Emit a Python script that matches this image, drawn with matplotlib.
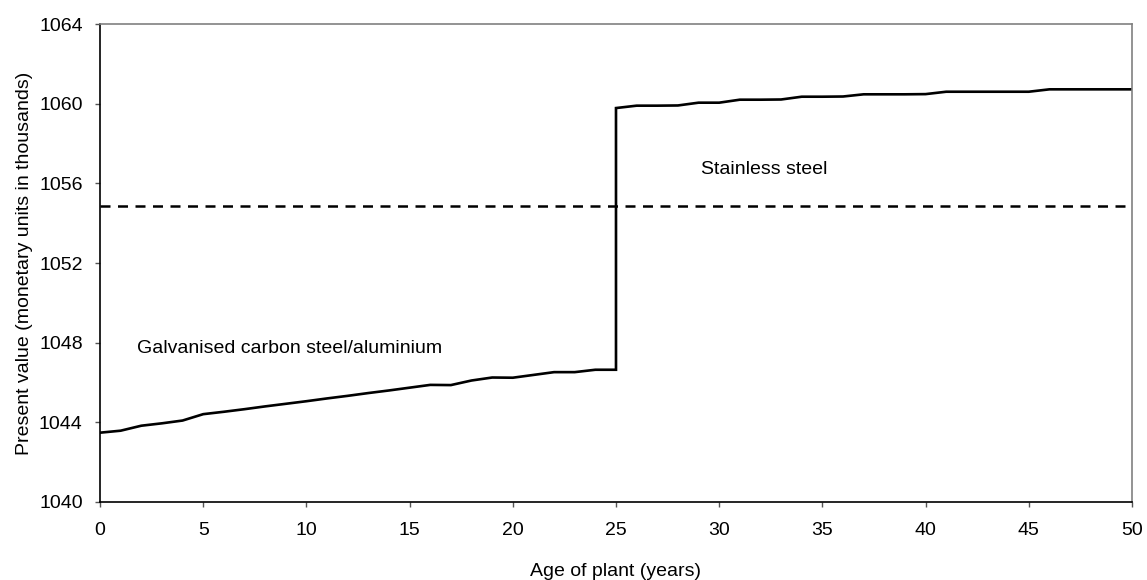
import numpy as np
import matplotlib
matplotlib.use("Agg")
import matplotlib.pyplot as plt

plt.rcParams["font.family"] = ["Liberation Sans", "DejaVu Sans"]

# Present value (thousands of monetary units)
galv_years = list(range(0, 26))
galv_pv = [1043.48, 1043.58, 1043.83, 1043.95, 1044.09, 1044.41, 1044.53,
           1044.66, 1044.80, 1044.93, 1045.06, 1045.20, 1045.33, 1045.47,
           1045.60, 1045.74, 1045.88, 1045.87, 1046.10, 1046.25, 1046.24,
           1046.38, 1046.52, 1046.52, 1046.64, 1046.64]

stainless_years = list(range(25, 51))
stainless_pv = [1059.78, 1059.90, 1059.90, 1059.91, 1060.05, 1060.05,
                1060.20, 1060.20, 1060.21, 1060.35, 1060.35, 1060.36,
                1060.47, 1060.47, 1060.47, 1060.48, 1060.60, 1060.60,
                1060.60, 1060.60, 1060.60, 1060.72, 1060.72, 1060.72,
                1060.72, 1060.72]

threshold_years = [0, 50]
threshold_pv = [1054.84, 1054.84]

x_ticks = [0, 5, 10, 15, 20, 25, 30, 35, 40, 45, 50]
y_ticks = [1040, 1044, 1048, 1052, 1056, 1060, 1064]

FS = 14

fig = plt.figure(figsize=(11.47, 5.8), dpi=100)
ax = fig.add_axes([0.0872, 0.1345, 0.8997, 0.8241])

years = galv_years + stainless_years
pv = galv_pv + stainless_pv
ax.plot(years, pv, color="black", lw=1.9, solid_joinstyle="miter")
ax.plot(threshold_years, threshold_pv, color="black", lw=1.8,
        linestyle=(0, (4, 3)))

ax.set_xlim(0, 50)
ax.set_ylim(1040, 1064)
ax.set_xticks(x_ticks)
ax.set_yticks(y_ticks)
ax.tick_params(direction="out", length=3.5, width=1, color="#555555",
               labelsize=FS)
ax.tick_params(axis="y", pad=9)
ax.tick_params(axis="x", pad=11)

for side in ["left", "bottom"]:
    ax.spines[side].set_color("black")
    ax.spines[side].set_linewidth(1.2)
for side in ["top", "right"]:
    ax.spines[side].set_color("#808080")
    ax.spines[side].set_linewidth(1.2)

ax.set_xlabel("Age of plant (years)", fontsize=FS, labelpad=17)
ax.set_ylabel("Present value (monetary units in thousands)", fontsize=FS,
              labelpad=4)

ax.text(1.8, 1047.7, "Galvanised carbon steel/aluminium", fontsize=FS,
        ha="left", va="center")
ax.text(32.2, 1056.68, "Stainless steel", fontsize=FS,
        ha="center", va="center")

fig.savefig("out.png", dpi=100)
